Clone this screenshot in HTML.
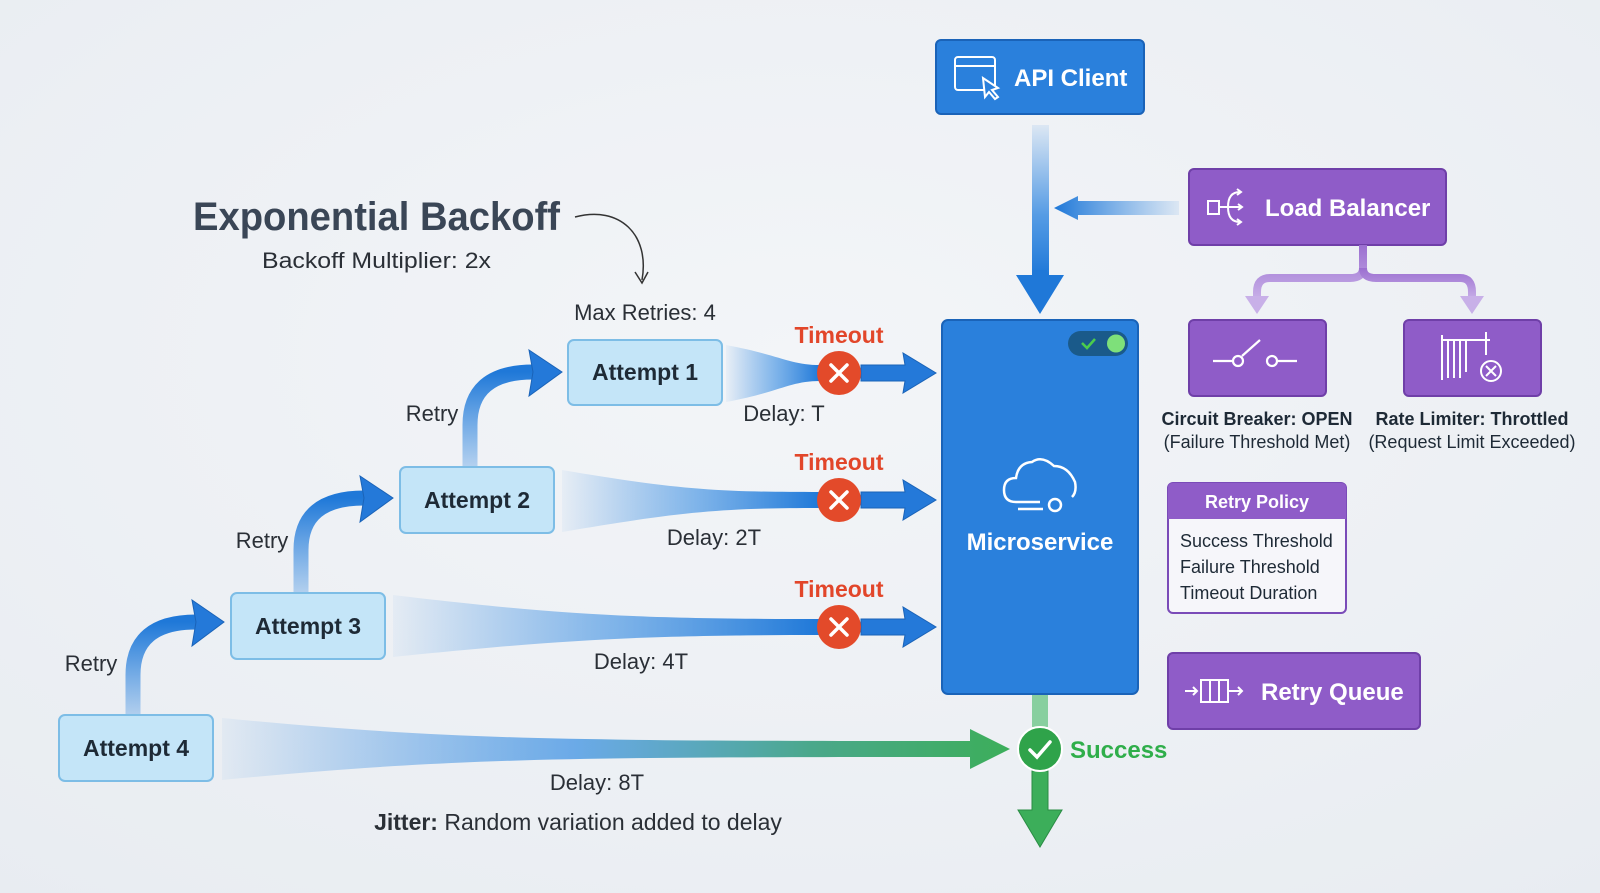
<!DOCTYPE html>
<html><head><meta charset="utf-8"><style>
html,body{margin:0;padding:0;}
body{width:1600px;height:893px;background:#eef1f5;overflow:hidden;}
svg{display:block;}
text{font-family:"Liberation Sans",sans-serif;}
</style></head><body>
<svg width="1600" height="893" viewBox="0 0 1600 893">
<defs>
<radialGradient id="bg" cx="50%" cy="40%" r="80%"><stop offset="0" stop-color="#f3f5f8"/><stop offset="1" stop-color="#e8ecf1"/></radialGradient>
<linearGradient id="fl" x1="0" x2="1" y1="0" y2="0"><stop offset="0" stop-color="#2f86e0" stop-opacity="0.05"/><stop offset="0.5" stop-color="#3a8ee2" stop-opacity="0.6"/><stop offset="1" stop-color="#1f78d8"/></linearGradient>
<linearGradient id="flg" x1="0" x2="1" y1="0" y2="0"><stop offset="0" stop-color="#2f86e0" stop-opacity="0.05"/><stop offset="0.45" stop-color="#4a98e4" stop-opacity="0.8"/><stop offset="0.75" stop-color="#4aa88a"/><stop offset="1" stop-color="#3cae5a"/></linearGradient>
<linearGradient id="vd" x1="0" x2="0" y1="0" y2="1"><stop offset="0" stop-color="#2f86e0" stop-opacity="0.1"/><stop offset="0.6" stop-color="#2f86e0" stop-opacity="0.8"/><stop offset="1" stop-color="#1f78d8"/></linearGradient>
<linearGradient id="lb" x1="1" x2="0"><stop offset="0" stop-color="#2f86e0" stop-opacity="0.1"/><stop offset="1" stop-color="#1f78d8"/></linearGradient>
<linearGradient id="ra" x1="0" x2="0" y1="1" y2="0"><stop offset="0" stop-color="#2f86e0" stop-opacity="0.3"/><stop offset="1" stop-color="#1f78d8"/></linearGradient>
<linearGradient id="pu" x1="0" x2="0" y1="0" y2="1"><stop offset="0" stop-color="#9b6fd0"/><stop offset="1" stop-color="#c8b0e8"/></linearGradient>
</defs>
<rect width="1600" height="893" fill="url(#bg)"/>

<!-- Title -->
<text x="193" y="230" font-size="40" font-weight="bold" fill="#3a4656" textLength="367" lengthAdjust="spacingAndGlyphs">Exponential Backoff</text>
<text x="262" y="268" font-size="22" fill="#2a2f36" textLength="229" lengthAdjust="spacingAndGlyphs">Backoff Multiplier: 2x</text>
<path d="M575 217 C620 205 650 235 642 280" fill="none" stroke="#333" stroke-width="1.5"/>
<path d="M635 272 L642 283 L648 272" fill="none" stroke="#333" stroke-width="1.5"/>
<text x="645" y="320" font-size="22" fill="#2a2f36" text-anchor="middle">Max Retries: 4</text>

<!-- Flows -->
<path d="M726 345 C780 355 790 365 820 365 L820 381 C790 381 780 392 726 402 Z" fill="url(#fl)"/>
<path d="M562 470 C680 490 720 492 820 492 L820 508 C720 508 680 512 562 532 Z" fill="url(#fl)"/>
<path d="M393 595 C560 615 640 619 820 619 L820 635 C640 635 560 640 393 657 Z" fill="url(#fl)"/>
<path d="M222 718 C450 740 560 741 970 741 L970 729 L1010 749 L970 769 L970 757 C560 757 450 758 222 780 Z" fill="url(#flg)"/>

<!-- Blue arrows into microservice -->
<g fill="#2479d9" stroke="#1a63b8" stroke-width="1">
<path d="M861 365 L905 365 L903 353 L936 373 L903 393 L905 381 L861 381 Z"/>
<path d="M861 492 L905 492 L903 480 L936 500 L903 520 L905 508 L861 508 Z"/>
<path d="M861 619 L905 619 L903 607 L936 627 L903 647 L905 635 L861 635 Z"/>
</g>
<!-- Timeout circles -->
<g>
<circle cx="839" cy="373" r="22" fill="#e34a2a"/><circle cx="839" cy="500" r="22" fill="#e34a2a"/><circle cx="839" cy="627" r="22" fill="#e34a2a"/>
<g stroke="#fff" stroke-width="3.5" stroke-linecap="round">
<path d="M831 365 L847 381 M847 365 L831 381"/>
<path d="M831 492 L847 508 M847 492 L831 508"/>
<path d="M831 619 L847 635 M847 619 L831 635"/>
</g>
<g font-size="23" fill="#e2462a" text-anchor="middle" font-weight="bold">
<text x="839" y="343">Timeout</text><text x="839" y="470">Timeout</text><text x="839" y="597">Timeout</text>
</g>
</g>
<g font-size="22" fill="#2a2f36" text-anchor="middle">
<text x="784" y="421">Delay: T</text>
<text x="714" y="545">Delay: 2T</text>
<text x="641" y="669">Delay: 4T</text>
<text x="597" y="790">Delay: 8T</text>
<text x="432" y="421">Retry</text>
<text x="262" y="548">Retry</text>
<text x="91" y="671">Retry</text>
<text x="578" y="830" font-size="23"><tspan font-weight="bold">Jitter:</tspan> Random variation added to delay</text>
</g>

<!-- Retry arrows -->
<g fill="none" stroke="url(#ra)" stroke-width="15">
<path d="M133 716 L133 675 Q133 622 196 622"/>
<path d="M301 594 L301 550 Q301 498 364 498"/>
<path d="M470 468 L470 425 Q470 372 533 372"/>
</g>
<g fill="#2479d9" stroke="#1a63b8" stroke-width="1">
<path d="M192 600 L224 622 L192 646 L196 622 Z"/>
<path d="M360 476 L393 498 L360 522 L364 498 Z"/>
<path d="M529 350 L562 372 L529 396 L533 372 Z"/>
</g>

<!-- Attempt boxes -->
<g fill="#c4e5f8" stroke="#7dbde6" stroke-width="2">
<rect x="568" y="340" width="154" height="65" rx="6"/>
<rect x="400" y="467" width="154" height="66" rx="6"/>
<rect x="231" y="593" width="154" height="66" rx="6"/>
<rect x="59" y="715" width="154" height="66" rx="6"/>
</g>
<g font-size="23" font-weight="bold" fill="#1e2a36" text-anchor="middle">
<text x="645" y="380">Attempt 1</text>
<text x="477" y="508">Attempt 2</text>
<text x="308" y="634">Attempt 3</text>
<text x="136" y="756">Attempt 4</text>
</g>

<!-- API client -->
<rect x="936" y="40" width="208" height="74" rx="5" fill="#2a80dc" stroke="#1a63b8" stroke-width="2"/>
<g fill="none" stroke="#fff" stroke-width="2">
<rect x="955" y="57" width="40" height="33" rx="3"/><path d="M955 66 L995 66"/>
<path d="M983 78 L985 97 L989 92 L995 99 L998 97 L992 90 L998 88 Z" fill="#2a80dc"/>
</g>
<text x="1014" y="86" font-size="24" font-weight="bold" fill="#fff">API Client</text>
<rect x="1032" y="125" width="17" height="150" fill="url(#vd)"/>
<path d="M1033 270 L1033 275 L1016 275 L1040 314 L1064 275 L1047 275 L1047 270 Z" fill="#1f78d8"/>

<!-- Load balancer -->
<rect x="1189" y="169" width="257" height="76" rx="5" fill="#8f5cc8" stroke="#6f3fa8" stroke-width="2"/>
<g fill="none" stroke="#fff" stroke-width="2"><rect x="1208" y="201" width="11" height="13"/><path d="M1219 207 L1228 207 M1240 192 Q1228 192 1228 207 Q1228 222 1240 222 M1228 207 L1242 207 M1237 189 L1241 192 L1237 195 M1238 204 L1242 207 L1238 210 M1237 219 L1241 222 L1237 225"/></g>
<text x="1265" y="216" font-size="24" font-weight="bold" fill="#fff">Load Balancer</text>
<path d="M1179 201 L1078 201 L1078 196 L1054 208 L1078 220 L1078 215 L1179 215 Z" fill="url(#lb)"/>

<!-- purple branches -->
<g fill="none" stroke="url(#pu)" stroke-width="8">
<path d="M1363 245 L1363 268 Q1363 278 1350 278 L1270 278 Q1257 278 1257 292 L1257 300"/>
<path d="M1363 268 Q1363 278 1376 278 L1460 278 Q1472 278 1472 292 L1472 300"/>
</g>
<path d="M1245 296 L1269 296 L1257 314 Z M1460 296 L1484 296 L1472 314 Z" fill="#c8b0e8"/>

<!-- CB & RL -->
<rect x="1189" y="320" width="137" height="76" rx="5" fill="#8f5cc8" stroke="#6f3fa8" stroke-width="2"/>
<g fill="none" stroke="#fff" stroke-width="2.2"><path d="M1213 361 L1234 361 M1242 356 L1260 340 M1276 361 L1297 361"/><circle cx="1238" cy="361" r="5"/><circle cx="1272" cy="361" r="5"/></g>
<rect x="1404" y="320" width="137" height="76" rx="5" fill="#8f5cc8" stroke="#6f3fa8" stroke-width="2"/>
<g fill="none" stroke="#fff" stroke-width="2"><path d="M1442 335 L1442 380 M1442 340 L1490 340 M1448 340 L1448 378 M1454 340 L1454 378 M1460 340 L1460 378 M1466 340 L1466 372 M1486 332 L1486 355"/><circle cx="1491" cy="371" r="10"/><path d="M1486 366 L1496 376 M1496 366 L1486 376"/></g>
<g font-size="18" fill="#1e2a36" text-anchor="middle">
<text x="1257" y="425" font-weight="bold">Circuit Breaker: OPEN</text>
<text x="1257" y="448">(Failure Threshold Met)</text>
<text x="1472" y="425" font-weight="bold">Rate Limiter: Throttled</text>
<text x="1472" y="448">(Request Limit Exceeded)</text>
</g>

<!-- Retry policy -->
<rect x="1168" y="483" width="178" height="130" rx="5" fill="#f6f6fa" stroke="#7a4bb8" stroke-width="2"/>
<path d="M1168 519 L1168 488 Q1168 483 1173 483 L1341 483 Q1346 483 1346 488 L1346 519 Z" fill="#8f5cc8"/>
<text x="1257" y="508" font-size="18" font-weight="bold" fill="#fff" text-anchor="middle">Retry Policy</text>
<g font-size="18" fill="#1e2a36"><text x="1180" y="547">Success Threshold</text><text x="1180" y="573">Failure Threshold</text><text x="1180" y="599">Timeout Duration</text></g>

<!-- Retry queue -->
<rect x="1168" y="653" width="252" height="76" rx="5" fill="#8f5cc8" stroke="#6f3fa8" stroke-width="2"/>
<g fill="none" stroke="#fff" stroke-width="2"><path d="M1185 691 L1197 691 M1193 687 L1197 691 L1193 695 M1201 680 L1228 680 L1228 702 L1201 702 Z M1210 681 L1210 701 M1219 681 L1219 701 M1228 691 L1242 691 M1238 687 L1242 691 L1238 695"/></g>
<text x="1261" y="700" font-size="24" font-weight="bold" fill="#fff">Retry Queue</text>

<!-- Microservice -->
<rect x="942" y="320" width="196" height="374" rx="6" fill="#2a80dc" stroke="#1a63b8" stroke-width="2"/>
<rect x="1068" y="331" width="60" height="25" rx="12.5" fill="#1a5a8a"/>
<circle cx="1116" cy="343.5" r="9" fill="#7ee07a"/>
<path d="M1082 343 L1087 348 L1095 339" fill="none" stroke="#4ccc4c" stroke-width="2.5"/>
<g fill="none" stroke="#fff" stroke-width="2.5">
<path d="M1040 502 L1016 502 Q1004 502 1004 490 Q1004 478 1016 478 Q1018 463 1032 462 Q1042 455 1054 466 Q1068 466 1075 482 Q1077 492 1072 497"/>
<path d="M1018 509 L1043 509"/><circle cx="1055" cy="505" r="6"/>
</g>
<text x="1040" y="550" font-size="24" font-weight="bold" fill="#fff" text-anchor="middle">Microservice</text>

<!-- success -->
<rect x="1032" y="695" width="16" height="32" fill="#5cc07a" opacity="0.7"/>
<path d="M1032 771 L1032 810 L1018 810 L1040 847 L1062 810 L1048 810 L1048 771 Z" fill="#3cae5a" stroke="#2a8c44" stroke-width="1"/>
<circle cx="1040" cy="749" r="22" fill="#2fa34a" stroke="#fff" stroke-width="2"/>
<path d="M1030 750 L1037 757 L1050 742" fill="none" stroke="#fff" stroke-width="3.5" stroke-linecap="round"/>
<text x="1070" y="758" font-size="24" font-weight="bold" fill="#2fae4a">Success</text>
</svg>
</body></html>
